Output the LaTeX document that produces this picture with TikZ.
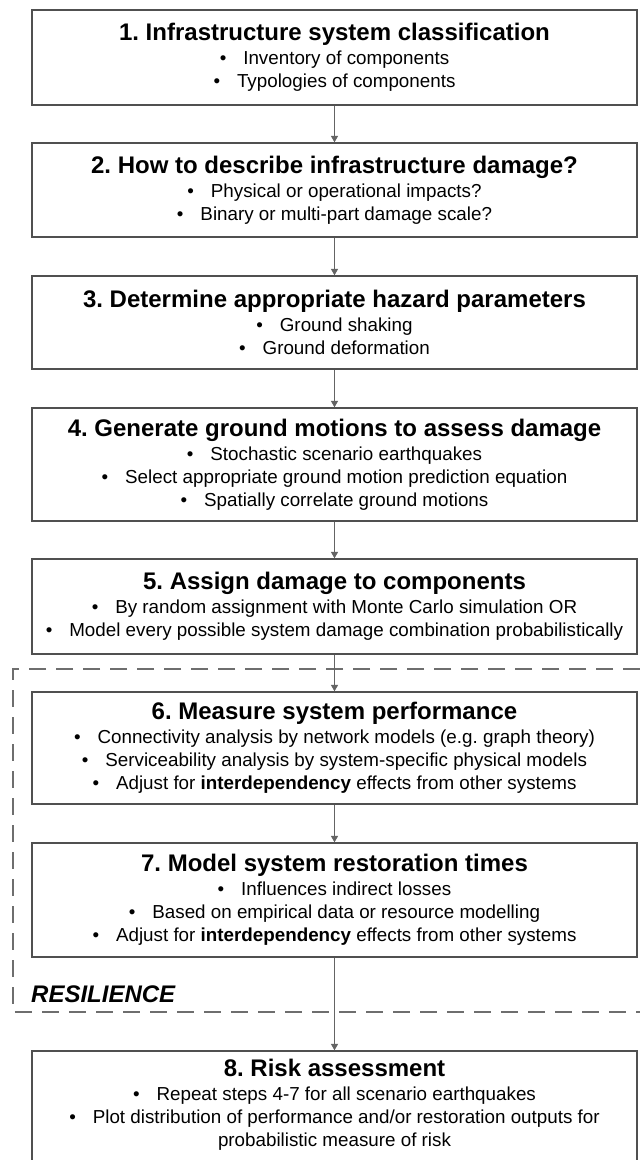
\documentclass[tikz,border=0pt]{standalone}
\usepackage{fontspec}
\setmainfont{Liberation Sans}
\usetikzlibrary{arrows.meta}
\frenchspacing
\definecolor{boxline}{RGB}{80,80,80}
\definecolor{arrowcol}{RGB}{100,100,100}
\definecolor{dashcol}{RGB}{110,110,110}
\newcommand\bul{•\hspace{0.9em}}
\newcommand\ttl[1]{{\fontsize{24}{23}\selectfont\bfseries #1}}
\tikzset{
  stepbox/.style={draw=boxline, line width=1.3pt, fill=white, minimum width=605pt,
    inner sep=0pt, align=center, font=\fontsize{18.8}{23}\selectfont\frenchspacing, text=black},
  flow/.style={draw=arrowcol, line width=1.3pt, -{Triangle[length=6.5pt,width=7pt]}},
  resil/.style={draw=dashcol, line width=2pt, dash pattern=on 17pt off 10pt},
  resiltext/.style={anchor=base west, inner sep=0pt, font=\fontsize{24}{26}\selectfont\bfseries\itshape, text=black}
}
\begin{document}
\begin{tikzpicture}[x=1pt,y=-1pt]
\useasboundingbox (0,0) rectangle (640,1160);
\fill[white] (0,0) rectangle (640,1160);

% resilience frame
\coordinate (rtr) at (640,669);
\coordinate (rtl) at (13,669);
\coordinate (rbl) at (13,1012);
\coordinate (rbr) at (640,1012);
\draw[resil] (rtr) -- (rtl) -- (rbl) -- (rbr);
\node[resiltext] (rl) at (31,1002) {RESILIENCE};

\node[stepbox, minimum height=95pt] (s1) at (334.5,57.5)
  {\ttl{1. Infrastructure system classification}\\[1pt]
   \bul Inventory of components\\
   \bul Typologies of components};
\node[stepbox, minimum height=94pt] (s2) at (334.5,190)
  {\ttl{2. How to describe infrastructure damage?}\\[1pt]
   \bul Physical or operational impacts?\\
   \bul Binary or multi-part damage scale?};
\node[stepbox, minimum height=93pt] (s3) at (334.5,322.5)
  {\ttl{3. Determine appropriate hazard parameters}\\[1pt]
   \bul Ground shaking\\
   \bul Ground deformation};
\node[stepbox, minimum height=113pt] (s4) at (334.5,464.5)
  {\ttl{4. Generate ground motions to assess damage}\\[1pt]
   \bul Stochastic scenario earthquakes\\
   \bul Select appropriate ground motion prediction equation\\
   \bul Spatially correlate ground motions};
\node[stepbox, minimum height=95pt] (s5) at (334.5,606.5)
  {\ttl{5. Assign damage to components}\\[1pt]
   \bul By random assignment with Monte Carlo simulation OR\\
   \bul Model every possible system damage combination probabilistically};
\node[stepbox, minimum height=112pt] (s6) at (334.5,748)
  {\ttl{6. Measure system performance}\\[1pt]
   \bul Connectivity analysis by network models (e.g. graph theory)\\
   \bul Serviceability analysis by system-specific physical models\\
   \bul Adjust for \textbf{interdependency} effects from other systems};
\node[stepbox, minimum height=114pt] (s7) at (334.5,900)
  {\ttl{7. Model system restoration times}\\[1pt]
   \bul Influences indirect losses\\
   \bul Based on empirical data or resource modelling\\
   \bul Adjust for \textbf{interdependency} effects from other systems};
\node[stepbox, minimum height=111pt] (s8) at (334.5,1106.5)
  {\ttl{8. Risk assessment}\\[1pt]
   \bul Repeat steps 4-7 for all scenario earthquakes\\
   \bul Plot distribution of performance and/or restoration outputs for\\
   probabilistic measure of risk\rule[-8pt]{0pt}{0pt}};

\draw[flow] (s1.south) -- (s2.north);
\draw[flow] (s2.south) -- (s3.north);
\draw[flow] (s3.south) -- (s4.north);
\draw[flow] (s4.south) -- (s5.north);
\draw[flow] (s5.south) -- (s6.north);
\draw[flow] (s6.south) -- (s7.north);
\draw[flow] (s7.south) -- (s8.north);
\end{tikzpicture}
\end{document}
